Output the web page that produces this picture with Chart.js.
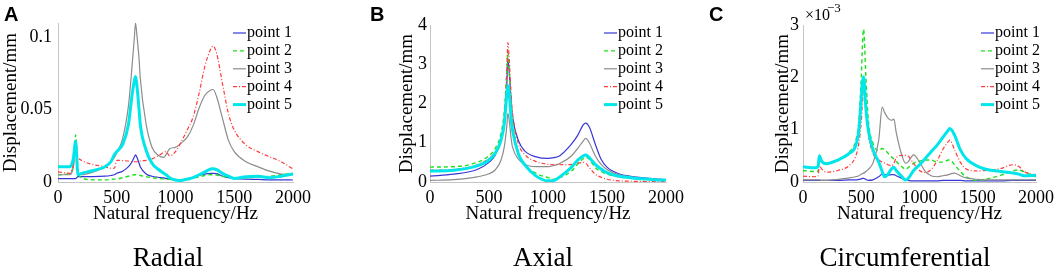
<!DOCTYPE html>
<html>
<head>
<meta charset="utf-8">
<script src="https://cdn.jsdelivr.net/npm/chart.js@4.4.0/dist/chart.umd.min.js"></script>
<style>
    body { margin: 0; background: #fff; }
    .panel { position: absolute; top: 0; width: 353px; height: 270px; }
</style>
</head>
<body>
<div class="panel" style="left:0px"><canvas id="radialChart" width="353" height="270"></canvas></div>
<div class="panel" style="left:353px"><canvas id="axialChart" width="353" height="270"></canvas></div>
<div class="panel" style="left:706px"><canvas id="circChart" width="353" height="270"></canvas></div>
<script>
// Etiquetas de las series
var puntos = ['point 1', 'point 2', 'point 3', 'point 4', 'point 5'];
var freqTicks = [0, 500, 1000, 1500, 2000];

// Radial (mm)
var radialFreq = [0, 100, 130, 150, 170, 200, 300, 400, 450, 480, 500, 550, 600, 630, 650, 660, 670, 690, 700, 750, 800, 850, 900, 920, 950, 1000, 1050, 1100, 1150, 1200, 1250, 1300, 1320, 1350, 1400, 1450, 1500, 1600, 1700, 1800, 1900, 2000];
var radialP1 = [0.0023, 0.0023, 0.0023, 0.0023, 0.0037, 0.0037, 0.0037, 0.004, 0.0045, 0.005, 0.006, 0.0075, 0.0106, 0.014, 0.0175, 0.0187, 0.0175, 0.013, 0.0106, 0.0055, 0.004, 0.0033, 0.0028, 0.0025, 0.002, 0.0014, 0.0015, 0.0023, 0.0033, 0.0046, 0.0055, 0.006, 0.006, 0.0058, 0.004, 0.003, 0.0025, 0.002, 0.0018, 0.0015, 0.0015, 0.0014];
var radialP2 = [0.005, 0.006, 0.012, 0.0325, 0.008, 0.003, 0.0015, 0.0015, 0.0018, 0.002, 0.002, 0.003, 0.004, 0.0047, 0.005, 0.005, 0.005, 0.0047, 0.0045, 0.0037, 0.003, 0.0025, 0.002, 0.002, 0.0018, 0.0015, 0.0017, 0.002, 0.0027, 0.0035, 0.0045, 0.005, 0.005, 0.0048, 0.004, 0.0035, 0.003, 0.003, 0.0035, 0.004, 0.005, 0.006];
var radialP3 = [0.005, 0.005, 0.01, 0.022, 0.006, 0.005, 0.007, 0.0106, 0.014, 0.017, 0.02, 0.03, 0.053, 0.08, 0.1, 0.11, 0.103, 0.085, 0.072, 0.04, 0.024, 0.0187, 0.017, 0.019, 0.023, 0.024, 0.027, 0.031, 0.039, 0.051, 0.06, 0.0637, 0.064, 0.059, 0.044, 0.029, 0.021, 0.014, 0.0106, 0.0075, 0.0055, 0.005];
var radialP4 = [0.007, 0.006, 0.012, 0.022, 0.017, 0.015, 0.012, 0.0106, 0.0095, 0.0095, 0.015, 0.0148, 0.0145, 0.014, 0.014, 0.014, 0.014, 0.0142, 0.0145, 0.015, 0.016, 0.018, 0.0205, 0.021, 0.018, 0.021, 0.028, 0.036, 0.045, 0.061, 0.08, 0.092, 0.094, 0.089, 0.068, 0.0475, 0.036, 0.0256, 0.021, 0.0175, 0.014, 0.009];
var radialP5 = [0.0106, 0.0106, 0.016, 0.028, 0.005, 0.006, 0.008, 0.0106, 0.014, 0.019, 0.021, 0.026, 0.04, 0.06, 0.07, 0.073, 0.068, 0.05, 0.04, 0.022, 0.013, 0.009, 0.006, 0.005, 0.003, 0.0014, 0.001, 0.002, 0.003, 0.005, 0.007, 0.009, 0.0092, 0.0085, 0.006, 0.004, 0.0025, 0.0037, 0.004, 0.003, 0.004, 0.0055];
var radialTicks = [0, 0.05, 0.1];

// Axial (mm)
var axialFreq = [0, 200, 400, 500, 550, 600, 630, 650, 660, 670, 690, 700, 750, 800, 900, 1000, 1050, 1100, 1200, 1250, 1300, 1320, 1350, 1400, 1450, 1500, 1600, 1700, 1800, 1900, 2000];
var axialP1 = [0.15, 0.2, 0.32, 0.5, 0.67, 1.05, 1.56, 2.4, 3.15, 2.85, 1.95, 1.65, 1.05, 0.8, 0.64, 0.6, 0.62, 0.67, 0.97, 1.18, 1.46, 1.5, 1.4, 0.97, 0.58, 0.38, 0.21, 0.145, 0.11, 0.08, 0.06];
var axialP2 = [0.38, 0.39, 0.5, 0.67, 0.84, 1.22, 1.82, 2.76, 3.3, 2.93, 1.9, 1.56, 0.71, 0.45, 0.22, 0.11, 0.07, 0.11, 0.28, 0.45, 0.6, 0.64, 0.58, 0.37, 0.27, 0.2, 0.13, 0.1, 0.08, 0.06, 0.04];
var axialP3 = [0.04, 0.06, 0.13, 0.21, 0.3, 0.54, 0.9, 1.4, 1.75, 1.6, 1.05, 0.88, 0.58, 0.45, 0.39, 0.39, 0.42, 0.47, 0.67, 0.85, 1.05, 1.11, 1.0, 0.67, 0.45, 0.32, 0.18, 0.13, 0.09, 0.07, 0.06];
var axialP4 = [0.3, 0.32, 0.44, 0.6, 0.75, 1.05, 1.65, 2.76, 3.55, 3.19, 2.1, 1.74, 0.97, 0.71, 0.52, 0.45, 0.44, 0.44, 0.45, 0.48, 0.5, 0.48, 0.37, 0.2, 0.12, 0.07, 0.03, 0.02, 0.015, 0.01, 0.01];
var axialP5 = [0.28, 0.3, 0.41, 0.56, 0.72, 1.05, 1.5, 2.2, 2.46, 2.3, 1.55, 1.31, 0.71, 0.45, 0.15, 0.03, 0.04, 0.13, 0.38, 0.55, 0.67, 0.69, 0.62, 0.45, 0.33, 0.24, 0.145, 0.11, 0.08, 0.06, 0.05];
var axialTicks = [0, 1, 2, 3, 4];

// Circumferential (x 10^-3 mm)
var circFreq = [0, 100, 130, 140, 160, 200, 300, 400, 450, 480, 500, 510, 520, 540, 560, 600, 650, 680, 700, 730, 760, 780, 800, 850, 880, 900, 950, 1000, 1050, 1100, 1150, 1200, 1250, 1260, 1300, 1350, 1400, 1500, 1600, 1700, 1800, 1850, 1900, 2000];
var circP1 = [0.03, 0.03, 0.03, 0.03, 0.03, 0.03, 0.03, 0.04, 0.04, 0.05, 0.06, 0.07, 0.07, 0.05, 0.03, 0.04, 0.1, 0.15, 0.14, 0.13, 0.14, 0.14, 0.12, 0.07, 0.04, 0.03, 0.02, 0.02, 0.02, 0.02, 0.02, 0.03, 0.03, 0.03, 0.03, 0.03, 0.02, 0.02, 0.02, 0.02, 0.03, 0.03, 0.03, 0.03];
var circP2 = [0.22, 0.2, 0.2, 0.45, 0.4, 0.36, 0.43, 0.58, 0.77, 1.18, 2.0, 2.6, 2.92, 2.0, 1.2, 0.74, 0.6, 0.64, 0.62, 0.55, 0.48, 0.44, 0.39, 0.29, 0.24, 0.27, 0.36, 0.4, 0.42, 0.42, 0.38, 0.38, 0.42, 0.42, 0.33, 0.2, 0.1, 0.03, 0.07, 0.13, 0.21, 0.23, 0.19, 0.1];
var circP3 = [0.04, 0.04, 0.04, 0.04, 0.03, 0.03, 0.05, 0.08, 0.1, 0.12, 0.15, 0.16, 0.17, 0.2, 0.24, 0.36, 0.8, 1.43, 1.33, 1.22, 1.18, 1.2, 0.95, 0.5, 0.36, 0.38, 0.52, 0.38, 0.2, 0.12, 0.1, 0.12, 0.14, 0.15, 0.17, 0.12, 0.08, 0.05, 0.04, 0.04, 0.04, 0.04, 0.04, 0.04];
var circP4 = [0.11, 0.1, 0.12, 0.31, 0.25, 0.19, 0.22, 0.32, 0.48, 0.75, 1.15, 1.5, 1.72, 1.4, 0.93, 0.55, 0.42, 0.38, 0.36, 0.33, 0.31, 0.36, 0.46, 0.51, 0.51, 0.5, 0.35, 0.22, 0.18, 0.24, 0.4, 0.62, 0.78, 0.8, 0.62, 0.38, 0.25, 0.21, 0.23, 0.26, 0.33, 0.3, 0.2, 0.13];
var circP5 = [0.29, 0.27, 0.3, 0.5, 0.4, 0.35, 0.42, 0.55, 0.68, 1.0, 1.6, 1.9, 2.01, 1.4, 1.0, 0.62, 0.38, 0.2, 0.1, 0.15, 0.25, 0.28, 0.22, 0.1, 0.04, 0.06, 0.22, 0.33, 0.45, 0.58, 0.7, 0.85, 1.0, 1.02, 0.9, 0.62, 0.45, 0.3, 0.23, 0.2, 0.17, 0.15, 0.12, 0.13];
var circTicks = [0, 1, 2, 3];

// Estilo de cada punto (color, grosor, trazo)
var estilos = [
    { color: 'rgb(55,55,215)', width: 1.2, dash: [] },
    { color: 'rgb(30,225,30)', width: 1.4, dash: [4, 3] },
    { color: 'rgb(140,140,140)', width: 1.2, dash: [] },
    { color: 'rgb(255,60,60)', width: 1.2, dash: [4, 2, 1, 2] },
    { color: 'rgb(0,230,235)', width: 3, dash: [] }
];

Chart.defaults.font.family = '"Liberation Serif", "Times New Roman", serif';
Chart.defaults.color = '#000';

function serie(freq, valores, i) {
    return {
        label: puntos[i],
        data: valores.map(function (v, k) { return { x: freq[k], y: v }; }),
        borderColor: estilos[i].color,
        borderWidth: estilos[i].width,
        borderDash: estilos[i].dash,
        pointRadius: 0,
        fill: false,
        cubicInterpolationMode: 'monotone',
        order: 4 - i
    };
}

// Letra, titulo, leyenda y exponente
var textos = {
    id: 'textos',
    afterDraw: function (chart, args, opts) {
        var ctx = chart.ctx;
        var area = chart.chartArea;
        ctx.save();
        ctx.fillStyle = '#000';
        ctx.textAlign = 'left';
        ctx.textBaseline = 'alphabetic';
        ctx.font = 'bold 20px "Liberation Sans", Arial, sans-serif';
        ctx.fillText(opts.letra, opts.letraX, 21);

        ctx.font = '27px "Liberation Serif", serif';
        ctx.textAlign = 'center';
        ctx.fillText(opts.titulo, opts.tituloX, 266);

        if (opts.exponente) {
            ctx.textAlign = 'left';
            ctx.font = '16px "Liberation Serif", serif';
            ctx.fillText('\u00d710', area.left + 2, 20);
            ctx.font = '13px "Liberation Serif", serif';
            ctx.fillText(opts.exponente, area.left + 24, 12);
        }

        ctx.font = '16px "Liberation Serif", serif';
        ctx.textAlign = 'left';
        ctx.textBaseline = 'middle';
        chart.data.datasets.forEach(function (ds, i) {
            var y = 33 + i * 17.9;
            ctx.strokeStyle = ds.borderColor;
            ctx.lineWidth = ds.borderWidth;
            ctx.setLineDash(ds.borderDash);
            ctx.beginPath();
            ctx.moveTo(opts.leyendaX, y);
            ctx.lineTo(opts.leyendaX + 13, y);
            ctx.stroke();
            ctx.setLineDash([]);
            ctx.fillText(ds.label, opts.leyendaX + 14, y);
        });
        ctx.restore();
    }
};

function crearGrafica(id, freq, series, yMax, yTicks, caja, textosOpts) {
    var ctx = document.getElementById(id);
    var config = {
        type: 'line',
        data: {
            datasets: series.map(function (valores, i) { return serie(freq, valores, i); })
        },
        options: {
            responsive: false,
            animation: false,
            devicePixelRatio: 1,
            layout: { padding: { left: caja.left, right: caja.right, top: caja.top, bottom: 40 } },
            plugins: {
                legend: { display: false },
                tooltip: { enabled: false },
                textos: textosOpts
            },
            scales: {
                x: {
                    type: 'linear',
                    min: 0,
                    max: 2000,
                    afterBuildTicks: function (scale) {
                        scale.ticks = freqTicks.map(function (v) { return { value: v }; });
                    },
                    afterFit: function (scale) { scale.height = 48; },
                    grid: { display: false, drawTicks: false },
                    border: { display: true, color: '#c4c4c4', width: 1 },
                    ticks: {
                        padding: 5,
                        font: { size: 18 },
                        maxRotation: 0,
                        callback: function (v) { return String(v); }
                    },
                    title: {
                        display: true,
                        text: 'Natural frequency/Hz',
                        font: { size: 19 },
                        padding: { top: 0, bottom: 5 }
                    }
                },
                y: {
                    type: 'linear',
                    min: 0,
                    max: yMax,
                    afterBuildTicks: function (scale) {
                        scale.ticks = yTicks.map(function (v) { return { value: v }; });
                    },
                    afterFit: function (scale) { scale.width = caja.yWidth; },
                    grid: { display: false, drawTicks: false },
                    border: { display: true, color: '#c4c4c4', width: 1 },
                    ticks: {
                        padding: caja.tickPad,
                        font: { size: 18 },
                        callback: function (v) { return String(v); }
                    },
                    title: {
                        display: true,
                        text: 'Displacement/mm',
                        font: { size: 19 },
                        padding: { top: 0, bottom: 0 }
                    }
                }
            }
        },
        plugins: [textos]
    };
    return new Chart(ctx, config);
}

window.onload = function () {
    crearGrafica('radialChart', radialFreq,
        [radialP1, radialP2, radialP3, radialP4, radialP5], 0.11, radialTicks,
        { left: 0, yWidth: 58, right: 60, top: 23, tickPad: 6 },
        { letra: 'A', letraX: 4, titulo: 'Radial', tituloX: 168, leyendaX: 233 });

    crearGrafica('axialChart', axialFreq,
        [axialP1, axialP2, axialP3, axialP4, axialP5], 4, axialTicks,
        { left: 43, yWidth: 34, right: 40, top: 25, tickPad: 3 },
        { letra: 'B', letraX: 17, titulo: 'Axial', tituloX: 190, leyendaX: 251 });

    crearGrafica('circChart', circFreq,
        [circP1, circP2, circP3, circP4, circP5], 3, circTicks,
        { left: 66, yWidth: 31, right: 20, top: 25, tickPad: 4 },
        { letra: 'C', letraX: 3, titulo: 'Circumferential', tituloX: 199, leyendaX: 275, exponente: '\u22123' });
};
</script>
</body>
</html>
